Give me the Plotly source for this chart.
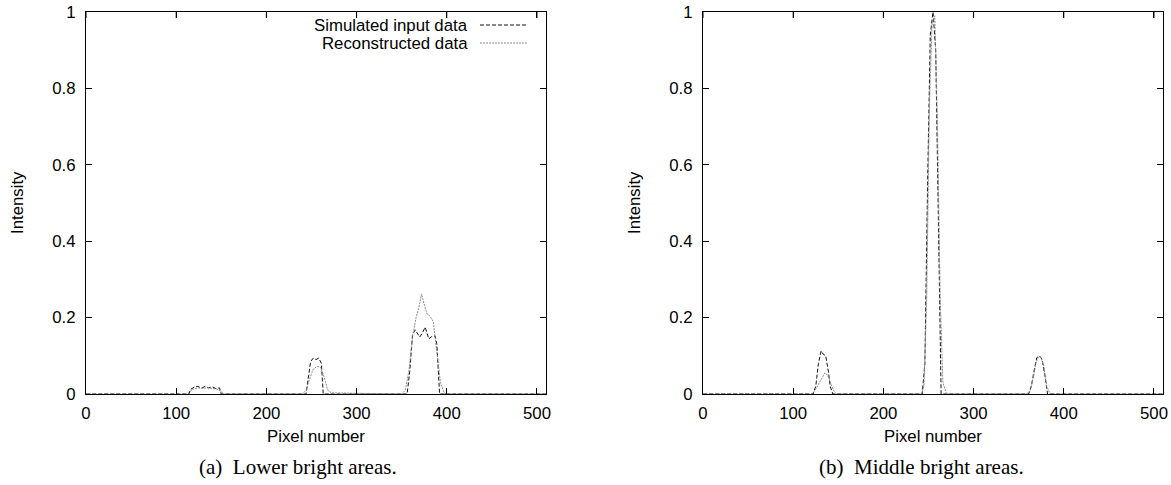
import plotly.graph_objects as go

# ---- data ----
# Panel (a): lower bright areas
a_sim_x = [0, 114, 116, 120, 124, 128, 132, 136, 140, 144, 148, 150,
           244, 246, 249, 252, 255, 258, 261, 263,
           356, 359, 362, 365, 368, 370, 373, 376, 378, 380, 383, 387, 389, 392, 510]
a_sim_y = [0, 0, 0.012, 0.018, 0.02, 0.015, 0.02, 0.016, 0.019, 0.014, 0.016, 0,
           0, 0.03, 0.085, 0.094, 0.09, 0.094, 0.08, 0,
           0, 0.06, 0.155, 0.168, 0.155, 0.149, 0.16, 0.175, 0.16, 0.144, 0.15, 0.152, 0.13, 0, 0]
a_rec_x = [0, 112, 116, 120, 125, 130, 135, 140, 145, 150, 153,
           240, 244, 248, 252, 256, 260, 264, 268, 272,
           350, 354, 358, 362, 366, 369, 372, 375, 378, 381, 385, 389, 393, 397, 400, 510]
a_rec_y = [0, 0, 0.008, 0.014, 0.016, 0.015, 0.016, 0.015, 0.013, 0.006, 0,
           0, 0.01, 0.04, 0.065, 0.072, 0.07, 0.045, 0.01, 0.003,
           0, 0.01, 0.06, 0.15, 0.2, 0.225, 0.262, 0.235, 0.21, 0.205, 0.19, 0.11, 0.03, 0.003, 0, 0]

# Panel (b): middle bright areas
b_sim_x = [0, 122, 125, 128, 131, 133, 136, 139, 141, 144,
           243, 246, 249, 252, 255, 258, 261, 264,
           361, 364, 367, 370, 373, 376, 379, 382, 510]
b_sim_y = [0, 0, 0.02, 0.08, 0.113, 0.105, 0.1, 0.06, 0.02, 0,
           0, 0.08, 0.55, 0.94, 1.0, 0.9, 0.45, 0,
           0, 0.02, 0.06, 0.095, 0.1, 0.09, 0.05, 0, 0]
b_rec_x = [0, 120, 124, 128, 132, 135, 138, 141, 145, 148,
           242, 245, 248, 251, 254, 257, 260, 263, 266, 270,
           359, 363, 366, 369, 372, 375, 378, 381, 385, 510]
b_rec_y = [0, 0, 0.008, 0.025, 0.045, 0.055, 0.05, 0.03, 0.008, 0,
           0, 0.02, 0.25, 0.75, 0.97, 0.99, 0.7, 0.25, 0.03, 0,
           0, 0.01, 0.04, 0.08, 0.098, 0.095, 0.07, 0.02, 0, 0]

series_names = ["Simulated input data", "Reconstructed data"]
x_ticks = [0, 100, 200, 300, 400, 500]
y_ticks = [0, 0.2, 0.4, 0.6, 0.8, 1]
y_tick_text = ["0", "0.2", "0.4", "0.6", "0.8", "1"]
captions = ["(a)  Lower bright areas.", "(b)  Middle bright areas."]
x_title = "Pixel number"
y_title = "Intensity"

W, H = 1171, 485
TOP, BOT, RIGHT = 12, 394, 1163          # plot-area edges in page pixels
PW, PH = RIGHT, BOT - TOP                # plot-area size (left margin 0)
SIM_STYLE = dict(color="#111111", width=1, dash="4px,2px")
REC_STYLE = dict(color="#8c8c8c", width=1, dash="2px,1px")

fig = go.Figure()
fig.add_trace(go.Scatter(x=a_sim_x, y=a_sim_y, mode="lines", line=SIM_STYLE,
                         name=series_names[0], xaxis="x", yaxis="y"))
fig.add_trace(go.Scatter(x=a_rec_x, y=a_rec_y, mode="lines", line=REC_STYLE,
                         name=series_names[1], xaxis="x", yaxis="y"))
fig.add_trace(go.Scatter(x=b_sim_x, y=b_sim_y, mode="lines", line=SIM_STYLE,
                         name=series_names[0], xaxis="x2", yaxis="y2"))
fig.add_trace(go.Scatter(x=b_rec_x, y=b_rec_y, mode="lines", line=REC_STYLE,
                         name=series_names[1], xaxis="x2", yaxis="y2"))

def dx(x):          # page x -> plot-area fraction
    return x / PW

def dy(y):          # page y -> plot-area fraction
    return (BOT - y) / PH

SANS = 16.8
axis_common = dict(showline=True, linecolor="black", linewidth=1, mirror="ticks",
                   ticks="inside", ticklen=6, tickcolor="black", tickwidth=1,
                   showgrid=False, zeroline=False, automargin=False,
                   ticklabeloverflow="allow",
                   tickfont=dict(family="Liberation Sans", size=SANS, color="black"))

fig.update_layout(
    width=W, height=H,
    margin=dict(l=0, r=W - RIGHT, t=TOP, b=H - BOT, autoexpand=False),
    paper_bgcolor="white", plot_bgcolor="white", showlegend=False,
    xaxis=dict(domain=[dx(86), dx(546)], range=[0, 510], tickvals=x_ticks,
               anchor="y", ticklabelstandoff=4, **axis_common),
    yaxis=dict(domain=[0, 1], range=[0, 1], tickvals=y_ticks, ticktext=y_tick_text,
               anchor="x", ticklabelstandoff=6, **axis_common),
    xaxis2=dict(domain=[dx(703), 1], range=[0, 510], tickvals=x_ticks,
                anchor="y2", ticklabelstandoff=4, **axis_common),
    yaxis2=dict(domain=[0, 1], range=[0, 1], tickvals=y_ticks, ticktext=y_tick_text,
                anchor="x2", ticklabelstandoff=6, **axis_common),
)

lab_font = dict(family="Liberation Sans", size=SANS, color="black")
cap_font = dict(family="Liberation Serif", size=21, color="black")
ann = []
for cx, ytx, cap, capx in [(316, 17, captions[0], 298), (933, 634, captions[1], 921)]:
    ann.append(dict(text=x_title, x=dx(cx), y=dy(437), xref="paper", yref="paper",
                    showarrow=False, font=lab_font, xanchor="center", yanchor="middle"))
    ann.append(dict(text=y_title, x=dx(ytx), y=dy(203), xref="paper", yref="paper",
                    showarrow=False, font=lab_font, textangle=-90,
                    xanchor="center", yanchor="middle"))
    ann.append(dict(text=cap, x=dx(capx), y=dy(467), xref="paper", yref="paper",
                    showarrow=False, font=cap_font, xanchor="center", yanchor="middle"))

shapes = []
# top edge of each panel frame, drawn on a pixel row
top_y = 1 + 0.5 / PH
for xr, yr in [("x domain", "y domain"), ("x2 domain", "y2 domain")]:
    shapes.append(dict(type="line", xref=xr, yref=yr, x0=0, x1=1, y0=top_y, y1=top_y,
                       line=dict(color="black", width=1), layer="above"))
# mirrored ticks along the top edge of each panel
for xr, yr in [("x", "y domain"), ("x2", "y2 domain")]:
    for t in x_ticks:
        shapes.append(dict(type="line", xref=xr, yref=yr, x0=t, x1=t,
                           y0=1, y1=1 - 6 / PH, line=dict(color="black", width=1)))

# key for panel (a)
for i, (name, style, yy) in enumerate([(series_names[0], SIM_STYLE, 25),
                                        (series_names[1], REC_STYLE, 43)]):
    ann.append(dict(text=name, x=dx(470), y=dy(yy), xref="paper", yref="paper",
                    showarrow=False, font=lab_font, xanchor="right", yanchor="middle"))
    shapes.append(dict(type="line", xref="paper", yref="paper",
                       x0=dx(480), x1=dx(527), y0=dy(yy), y1=dy(yy),
                       line=style))
fig.update_layout(annotations=ann, shapes=shapes)

# remove the default page margin so the figure fills the window exactly
fig.write_html("out.html", config={"displayModeBar": False},
               post_script="document.body.style.margin='0';document.body.style.overflow='hidden';")
